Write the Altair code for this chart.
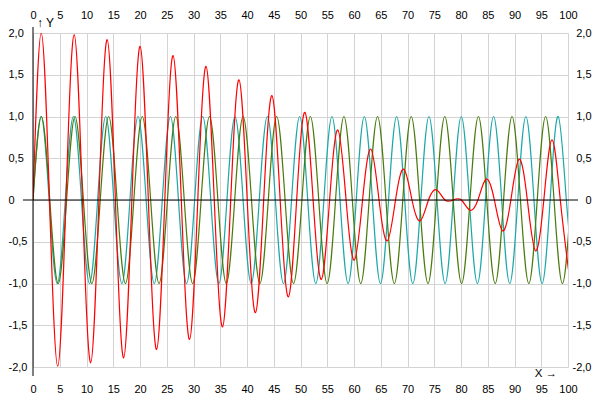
import altair as alt
import pandas as pd

# ---- tick values ----
x_ticks = [0, 5, 10, 15, 20, 25, 30, 35, 40, 45, 50, 55, 60, 65, 70, 75, 80, 85, 90, 95, 100]
y_ticks = [-2.0, -1.5, -1.0, -0.5, 0.0, 0.5, 1.0, 1.5, 2.0]

# ---- teal series (peaks / zero crossings) ----
teal_x = [0, 1.51, 3.02, 4.53, 6.04, 7.55, 9.06, 10.57, 12.08, 13.59, 15.10, 16.61,
          18.12, 19.63, 21.15, 22.66, 24.17, 25.68, 27.19, 28.70, 30.21, 31.72, 33.23,
          34.74, 36.25, 37.76, 39.27, 40.78, 42.29, 43.80, 45.31, 46.82, 48.33, 49.84,
          51.35, 52.86, 54.37, 55.88, 57.39, 58.90, 60.42, 61.93, 63.44, 64.95, 66.46,
          67.97, 69.48, 70.99, 72.50, 74.01, 75.52, 77.03, 78.54, 80.05, 81.56, 83.07,
          84.58, 86.09, 87.60, 89.11, 90.62, 92.13, 93.64, 95.15, 96.66, 98.17, 99.69,
          101.20]
teal_y = [0, 1, 0, -1,
          0, 1, 0, -1,
          0, 1, 0, -1,
          0, 1, 0, -1,
          0, 1, 0, -1,
          0, 1, 0, -1,
          0, 1, 0, -1,
          0, 1, 0, -1,
          0, 1, 0, -1,
          0, 1, 0, -1,
          0, 1, 0, -1,
          0, 1, 0, -1,
          0, 1, 0, -1,
          0, 1, 0, -1,
          0, 1, 0, -1,
          0, 1, 0, -1,
          0, 1, 0, -1]

# ---- green series ----
green_x = [0, 1.57, 3.14, 4.71, 6.28, 7.85, 9.42, 11.00, 12.57, 14.14, 15.71, 17.28,
           18.85, 20.42, 21.99, 23.56, 25.13, 26.70, 28.27, 29.85, 31.42, 32.99, 34.56,
           36.13, 37.70, 39.27, 40.84, 42.41, 43.98, 45.55, 47.12, 48.69, 50.27, 51.84,
           53.41, 54.98, 56.55, 58.12, 59.69, 61.26, 62.83, 64.40, 65.97, 67.54, 69.12,
           70.69, 72.26, 73.83, 75.40, 76.97, 78.54, 80.11, 81.68, 83.25, 84.82, 86.39,
           87.96, 89.54, 91.11, 92.68, 94.25, 95.82, 97.39, 98.96, 100.53]
green_y = [0, 1, 0, -1,
           0, 1, 0, -1,
           0, 1, 0, -1,
           0, 1, 0, -1,
           0, 1, 0, -1,
           0, 1, 0, -1,
           0, 1, 0, -1,
           0, 1, 0, -1,
           0, 1, 0, -1,
           0, 1, 0, -1,
           0, 1, 0, -1,
           0, 1, 0, -1,
           0, 1, 0, -1,
           0, 1, 0, -1,
           0, 1, 0, -1,
           0, 1, 0, -1,
           0]

# ---- red series (sum, beating) ----
red_x = [0, 1.54, 3.08, 4.62, 6.16, 7.70, 9.24, 10.78, 12.32, 13.86, 15.40, 16.94,
         18.48, 20.02, 21.56, 23.10, 24.64, 26.18, 27.72, 29.26, 30.80, 32.34, 33.88,
         35.42, 36.96, 38.50, 40.04, 41.58, 43.12, 44.66, 46.20, 47.74, 49.28, 50.82,
         52.36, 53.90, 55.44, 56.98, 58.52, 60.06, 61.60, 63.14, 64.68, 66.22, 67.76,
         69.30, 70.84, 72.38, 73.92, 75.46, 77.00, 78.54, 80.08, 81.62, 83.16, 84.70,
         86.24, 87.78, 89.32, 90.86, 92.40, 93.94, 95.48, 97.02, 98.56, 100.10]
red_y = [0, 2.00, 0, -1.99, 0, 1.98, 0, -1.95, 0, 1.92, 0, -1.89,
         0, 1.84, 0, -1.79, 0, 1.73, 0, -1.67, 0, 1.60, 0,
         -1.52, 0, 1.44, 0, -1.35, 0, 1.25, 0, -1.16, 0, 1.05,
         0, -0.95, 0, 0.84, 0, -0.72, 0, 0.61, 0, -0.49, 0,
         0.37, 0, -0.25, 0, 0.12, 0, 0, 0, -0.12, 0, 0.25,
         0, -0.37, 0, 0.49, 0, -0.61, 0, 0.72, 0, -0.84]

W, H = 535, 334
FONT = "Liberation Sans"

xs = alt.Scale(domain=[0, 100], nice=False, zero=False)
ys = alt.Scale(domain=[-2, 2], nice=False, zero=False)

# left labels: positives get a leading space in place of the minus sign
y_label_left = ("datum.value == 0 ? '0' : (datum.value < 0 ? '-' : '\u00a0') + "
                "replace(format(abs(datum.value), '.1f'), '.', ',')")
y_label_right = ("datum.value == 0 ? '0' : (datum.value < 0 ? '-' : '') + "
                 "replace(format(abs(datum.value), '.1f'), '.', ',')")

common = dict(labelFont=FONT, labelFontSize=11, labelColor="black", ticks=False,
              tickSize=0, domain=False, title=None, labelFlush=False, labelOverlap=False)

teal_df = pd.DataFrame({"x": teal_x, "y": teal_y})
green_df = pd.DataFrame({"x": green_x, "y": green_y})
red_df = pd.DataFrame({"x": red_x, "y": red_y})

zero_line = alt.Chart(pd.DataFrame({"y": [0]})).mark_rule(color="black", strokeWidth=1).encode(
    y=alt.Y("y:Q", scale=ys, axis=None),
    x=alt.value(-10), x2=alt.value(545))

y_line = alt.Chart(pd.DataFrame({"x": [0]})).mark_rule(color="black", strokeWidth=1).encode(
    x=alt.X("x:Q", scale=xs, axis=None),
    y=alt.value(-6), y2=alt.value(343))

teal = alt.Chart(teal_df).mark_line(color="#1CA8A8", strokeWidth=1.2, interpolate="natural",
                                    clip=True).encode(
    x=alt.X("x:Q", scale=xs, axis=alt.Axis(orient="bottom", values=x_ticks, grid=True,
                                            gridColor="#d3d3d3", labelPadding=16, **common)),
    y=alt.Y("y:Q", scale=ys, axis=alt.Axis(orient="left", values=y_ticks, grid=True,
                                            gridColor="#d3d3d3", labelExpr=y_label_left,
                                            labelAlign="left", labelPadding=25, **common)))

green = alt.Chart(green_df).mark_line(color="#4A7A0C", strokeWidth=1.2, interpolate="natural",
                                      clip=True).encode(
    x=alt.X("x:Q", scale=xs, axis=alt.Axis(orient="top", values=x_ticks, grid=False,
                                            labelPadding=12.5, **common)),
    y=alt.Y("y:Q", scale=ys, axis=alt.Axis(orient="right", values=y_ticks, grid=False,
                                            labelExpr=y_label_right, labelAlign="right",
                                            labelPadding=23, **common)))

red = alt.Chart(red_df).mark_line(color="#FF0000", strokeWidth=1.2, interpolate="natural",
                                  clip=True).encode(
    x=alt.X("x:Q", scale=xs, axis=None),
    y=alt.Y("y:Q", scale=ys, axis=None))

y_title = alt.Chart(pd.DataFrame({"t": ["↑ Y"]})).mark_text(
    align="left", baseline="middle", font=FONT, fontSize=12, color="black").encode(
    text="t:N", x=alt.value(4), y=alt.value(-10))

x_title = alt.Chart(pd.DataFrame({"t": ["X →"]})).mark_text(
    align="right", baseline="middle", font=FONT, fontSize=11.5, color="black").encode(
    text="t:N", x=alt.value(524), y=alt.value(341))

chart = alt.layer(teal, green, red, y_line, zero_line, y_title, x_title).resolve_axis(
    x="independent", y="independent"
).properties(
    width=W, height=H,
    autosize=alt.AutoSizeParams(type="none"),
    padding={"left": 25, "top": 25, "right": 24, "bottom": 32},
).configure_view(strokeWidth=0)

chart.save("out.html", embed_options={"renderer": "svg", "actions": False})
